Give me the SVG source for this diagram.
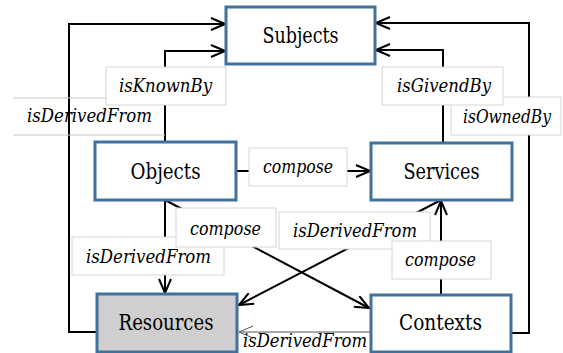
<svg xmlns="http://www.w3.org/2000/svg" width="563" height="353" viewBox="0 0 563 353">
<style>
.node rect{fill:#fff;stroke:#41719c;stroke-width:3}
.ntext{font-family:'DejaVu Serif',serif;font-size:21.5px;fill:#000;text-anchor:middle}
.ltext{font-family:'DejaVu Serif',serif;font-size:19px;font-style:italic;fill:#000;text-anchor:middle}
.conn{fill:none;stroke:#000;stroke-width:2;marker-end:url(#arr)}
.lbox{fill:#fff;stroke:#d6d6d6;stroke-width:1}
.lline{stroke:#c8c8c8;stroke-width:1;fill:none}
</style>
<defs>
<marker id="arr" viewBox="0 0 16 14" refX="15" refY="7" markerWidth="16" markerHeight="14" markerUnits="userSpaceOnUse" orient="auto">
<path d="M1,1 L15,7 L1,13" fill="none" stroke="#000" stroke-width="2"/>
</marker>
<marker id="arrthin" viewBox="0 0 16 14" refX="15" refY="7" markerWidth="16" markerHeight="14" markerUnits="userSpaceOnUse" orient="auto">
<path d="M1,1 L15,7 L1,13" fill="none" stroke="#555" stroke-width="1"/>
</marker>
</defs>
<rect width="563" height="353" fill="#fff"/>
<g id="connectors">
<polyline class="conn" points="97,332 69,332 69,24 225,24"/>
<polyline class="conn" points="165,142 165,51 225,51"/>
<polyline class="conn" points="511,333 529,333 529,23 376,23"/>
<polyline class="conn" points="443,143 443,50 376,50"/>
<line class="conn" x1="236" y1="171" x2="370" y2="171"/>
<line class="conn" x1="165" y1="200" x2="165" y2="293"/>
<line class="conn" x1="441" y1="295" x2="441" y2="201"/>
<line class="conn" x1="165" y1="200" x2="369" y2="308"/>
<line class="conn" x1="441" y1="200" x2="239" y2="305"/>
<line x1="371" y1="332" x2="239" y2="332" stroke="#555" stroke-width="1" marker-end="url(#arrthin)"/>
<g id="label-isDerivedFrom-left">
<line class="lline" x1="13" y1="98" x2="106" y2="98"/>
<line class="lline" x1="13" y1="135" x2="165" y2="135"/>
<text class="ltext" x="89.5" y="122" textLength="125" lengthAdjust="spacingAndGlyphs">isDerivedFrom</text>
</g>
<g id="label-isKnownBy">
<rect class="lbox" x="106" y="67" width="120" height="38"/>
<text class="ltext" x="165.5" y="92" textLength="93" lengthAdjust="spacingAndGlyphs">isKnownBy</text>
</g>
<g id="label-isOwnedBy">
<rect class="lbox" x="451" y="97" width="110" height="38"/>
<text class="ltext" x="507" y="123" textLength="88" lengthAdjust="spacingAndGlyphs">isOwnedBy</text>
</g>
<g id="label-isGivendBy">
<rect class="lbox" x="382" y="67" width="121" height="38"/>
<text class="ltext" x="444" y="92" textLength="94" lengthAdjust="spacingAndGlyphs">isGivendBy</text>
</g>
<g id="label-compose-mid">
<rect class="lbox" x="249" y="148" width="98" height="38"/>
<text class="ltext" x="298" y="173" textLength="70" lengthAdjust="spacingAndGlyphs">compose</text>
</g>
<g id="label-isDerivedFrom-lowleft">
<rect class="lbox" x="72" y="237" width="152" height="38"/>
<text class="ltext" x="148.5" y="263" textLength="125" lengthAdjust="spacingAndGlyphs">isDerivedFrom</text>
</g>
<g id="label-compose-left">
<rect class="lbox" x="176" y="208" width="100" height="39"/>
<text class="ltext" x="225.5" y="235" textLength="71" lengthAdjust="spacingAndGlyphs">compose</text>
</g>
<g id="label-isDerivedFrom-right">
<rect class="lbox" x="279" y="212" width="151" height="37"/>
<text class="ltext" x="355" y="237" textLength="124" lengthAdjust="spacingAndGlyphs">isDerivedFrom</text>
</g>
<g id="label-compose-right">
<rect class="lbox" x="392" y="241" width="99" height="38"/>
<text class="ltext" x="440.5" y="266" textLength="71" lengthAdjust="spacingAndGlyphs">compose</text>
</g>
<text class="ltext" x="305" y="347" textLength="124" lengthAdjust="spacingAndGlyphs">isDerivedFrom</text>
</g>
<g id="Subjects" class="node">
<rect x="226" y="7" width="149" height="57"/>
<text class="ntext" x="300.5" y="43" textLength="76" lengthAdjust="spacingAndGlyphs">Subjects</text>
</g>
<g id="Objects" class="node">
<rect x="95" y="142" width="141" height="58"/>
<text class="ntext" x="165.5" y="179" textLength="70" lengthAdjust="spacingAndGlyphs">Objects</text>
</g>
<g id="Services" class="node">
<rect x="371" y="143" width="141" height="57"/>
<text class="ntext" x="441.5" y="179" textLength="76" lengthAdjust="spacingAndGlyphs">Services</text>
</g>
<g id="Resources" class="node">
<rect x="97" y="294" width="140" height="58" style="fill:#d0cece"/>
<text class="ntext" x="166" y="330" textLength="95" lengthAdjust="spacingAndGlyphs">Resources</text>
</g>
<g id="Contexts" class="node">
<rect x="371" y="295" width="140" height="57"/>
<text class="ntext" x="440.5" y="330" textLength="83" lengthAdjust="spacingAndGlyphs">Contexts</text>
</g>
</svg>
